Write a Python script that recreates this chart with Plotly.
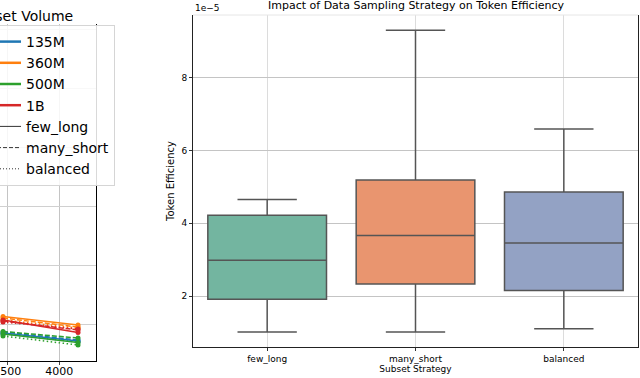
import plotly.graph_objects as go

W, H = 640, 378

# ---- left chart (partially visible): efficiency vs subset volume ----
volumes = ["135M", "360M", "500M", "1B"]
vol_colors = ["#1f77b4", "#ff7f0e", "#2ca02c", "#d62728"]
strategies = ["few_long", "many_short", "balanced"]
data_dashes = ["solid", "5px,2px", "1.5px,2.5px"]
legend_dashes = ["solid", "4px,2px", "1px,2px"]
subset_x = [3459, 4180]
left_vals = {
    ("135M", "few_long"): [1.712, 1.441],
    ("135M", "many_short"): [1.746, 1.475],
    ("135M", "balanced"): [1.678, 1.407],
    ("360M", "few_long"): [2.271, 1.983],
    ("360M", "many_short"): [2.220, 1.915],
    ("360M", "balanced"): [2.153, 1.881],
    ("500M", "few_long"): [1.678, 1.390],
    ("500M", "many_short"): [1.763, 1.542],
    ("500M", "balanced"): [1.610, 1.305],
    ("1B", "few_long"): [2.153, 1.729],
    ("1B", "many_short"): [2.119, 1.814],
    ("1B", "balanced"): [2.085, 1.847],
}
left_xticks = [3500, 4000]

# ---- right chart: box statistics (x 1e-5) ----
box_cats = ["few_long", "many_short", "balanced"]
box_colors = ["#73b5a0", "#e9956f", "#93a2c4"]
q1 = [1.91, 2.33, 2.15]
med = [2.98, 3.66, 3.46]
q3 = [4.22, 5.19, 4.86]
lo = [1.01, 1.01, 1.10]
hi = [4.65, 9.30, 6.59]
right_yticks = [2, 4, 6, 8]

FONT = "DejaVu Sans"
fig = go.Figure()

for vi, v in enumerate(volumes):
    for si, s in enumerate(strategies):
        fig.add_trace(go.Scatter(
            x=subset_x, y=left_vals[(v, s)], mode="lines+markers",
            line=dict(color=vol_colors[vi], width=1.5, dash=data_dashes[si]),
            marker=dict(size=5, color=vol_colors[vi]),
            xaxis="x", yaxis="y", showlegend=False, hoverinfo="skip"))

for vi, v in enumerate(volumes):
    fig.add_trace(go.Scatter(x=[None], y=[None], mode="lines", name=v,
                             line=dict(color=vol_colors[vi], width=2.5),
                             xaxis="x", yaxis="y"))
for si, s in enumerate(strategies):
    fig.add_trace(go.Scatter(x=[None], y=[None], mode="lines", name=s,
                             line=dict(color="#333333", width=1,
                                       dash=legend_dashes[si]),
                             xaxis="x", yaxis="y"))

for i, c in enumerate(box_cats):
    fig.add_trace(go.Box(
        x=[c], q1=[q1[i]], median=[med[i]], q3=[q3[i]],
        lowerfence=[lo[i]], upperfence=[hi[i]], width=0.8,
        fillcolor=box_colors[i], line=dict(color="#555555", width=1.5),
        whiskerwidth=0.5, boxpoints=False, showlegend=False,
        xaxis="x2", yaxis="y2", hoverinfo="skip"))

def px(x):
    return x / W

def py(y):
    return (H - y) / H

fig.update_layout(
    width=W, height=H, margin=dict(l=0, r=0, t=0, b=0, autoexpand=False),
    paper_bgcolor="white", plot_bgcolor="white",
    font=dict(family=FONT, color="#000000"),
    boxmode="overlay", boxgap=0.2,
    xaxis=dict(domain=[0, px(95.7)], range=[3430, 4350],
               tickvals=left_xticks, ticktext=[str(t) for t in left_xticks],
               tickfont=dict(size=11), ticks="outside", ticklen=3,
               ticklabelstandoff=-3, ticklabeloverflow="allow",
               showgrid=True, gridcolor="#c4c4c4", showline=True,
               linecolor="#000000", linewidth=1, zeroline=False,
               automargin=False),
    yaxis=dict(domain=[py(361), py(24)], range=[0.763, 12.19],
               tickvals=[2, 4, 6, 8, 10, 12], showticklabels=False, ticks="",
               side="right", showgrid=True, gridcolor="#d0d0d0",
               showline=True, linecolor="#000000", linewidth=1, zeroline=False,
               automargin=False),
    xaxis2=dict(domain=[px(193), px(638)], range=[-0.5, 2.5], anchor="y2",
                type="category", categoryorder="array", categoryarray=box_cats,
                tickfont=dict(size=9), ticks="outside", ticklen=3,
                tickcolor="#333333", showgrid=True, gridcolor="#dcdcdc",
                showline=True, linecolor="#222222", linewidth=1,
                automargin=False,
                title=dict(text="Subset Strategy", font=dict(size=9), standoff=2)),
    yaxis2=dict(domain=[py(347), py(15)], range=[0.60, 9.72], anchor="x2",
                tickvals=right_yticks, tickfont=dict(size=9), ticks="outside",
                ticklen=3, tickcolor="#333333", showgrid=True,
                gridcolor="#c4c4c4", showline=True, mirror=True,
                linecolor="#222222", linewidth=1, zeroline=False,
                automargin=False,
                title=dict(text="Token Efficiency", font=dict(size=10), standoff=4)),
    legend=dict(x=px(115), xanchor="right", y=py(25), yanchor="top",
                bgcolor="rgba(255,255,255,0.85)", bordercolor="#d5d5d5",
                borderwidth=1, font=dict(size=14, family=FONT)),
    shapes=[dict(type="line", xref="paper", yref="paper",
                 x0=px(193), x1=px(638), y0=py(15), y1=py(15),
                 line=dict(color="#e6e6e6", width=1))],
    annotations=[
        dict(text="Impact of Data Sampling Strategy on Token Efficiency",
             xref="paper", yref="paper", x=px(416), y=py(5),
             xanchor="center", yanchor="middle", showarrow=False,
             font=dict(size=11)),
        dict(text="1e\u22125", xref="paper", yref="paper", x=px(193), y=py(8),
             xanchor="left", yanchor="middle", showarrow=False,
             font=dict(size=9)),
        dict(text="Token Efficiency vs. Subset Volume", xref="paper", yref="paper",
             x=px(75), y=py(16), xanchor="right", yanchor="middle",
             showarrow=False, font=dict(size=14)),
    ],
)

fig.write_html("out.html", config={"displayModeBar": False},
               post_script="document.body.style.margin='0';"
                           "document.body.style.overflow='hidden';")
